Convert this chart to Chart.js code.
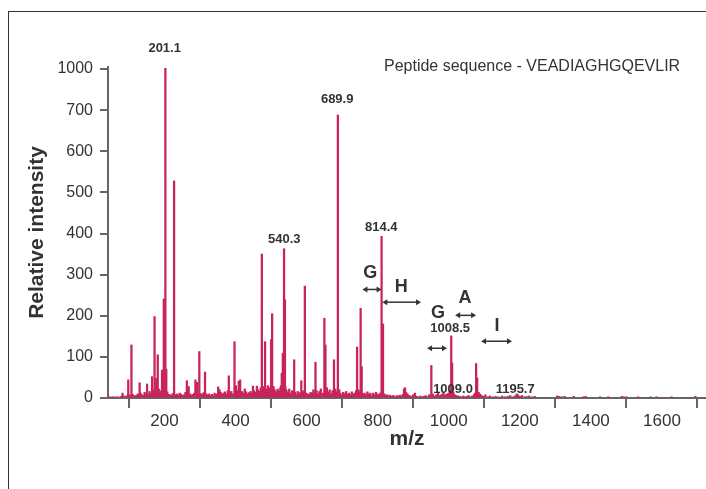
<!DOCTYPE html>
<html><head><meta charset="utf-8">
<script src="https://cdn.jsdelivr.net/npm/chart.js@4"></script>
<style>
html,body{margin:0;padding:0;background:#fff;overflow:hidden;}
#wrap{position:relative;width:706px;height:489px;overflow:hidden;}
#frame{position:absolute;left:8px;top:11px;width:800px;height:600px;border:1px solid #333;box-sizing:border-box;}
canvas{position:absolute;left:0;top:0;}
</style></head><body>
<div id="wrap"><div id="frame"></div><canvas id="c" width="706" height="489"></canvas></div>
<script>
// ---- data (plotted intensity units; axis label "1000" sits at plotted 800) ----
const majorMz  = [98,107,130,151,165,172,177,181,193,198,202.5,205,227,263,268,287,292,298,314,351,381,397,409,413,449,460,474,483,500,503,530,533,536.5,539,565,585,595,625,650,653,677,688,742,752,755,811,815,877,951,1007,1009.5,1077,1080];
const majorInt = [44,129,37,34,52,198,48,105,68,241,802,70,528,42,28,44,38,113,63,27,54,137,41,44,29,29,350,137,142,205,60,109,363,239,93,42,272,87,194,129,93,688,124,218,76,393,180,25,79,151,85,84,49];

const noiseMz  = [45,50,55,60,66,72,78,82,87,91,95,101,104,110,114,118,121,125,133,137,141,144,148,155,158,161,168,175,184,188,191,196,208,212,216,220,223,231,235,239,243,247,251,255,259,266,272,276,280,284,290,295,302,306,310,318,322,326,330,334,338,341,345,348,355,358,362,366,370,374,378,385,388,392,401,405,418,422,426,430,434,438,442,446,452,456,464,468,471,477,480,487,491,494,497,507,510,514,518,522,526,528,540,543,547,551,555,559,562,568,571,575,578,581,589,592,599,603,607,611,615,619,622,628,632,636,640,646,657,661,665,669,673,681,685,692,695,699,703,707,711,715,719,723,727,731,735,739,746,749,759,763,767,771,775,779,783,787,791,795,799,803,807,819,823,827,831,835,839,843,847,851,855,859,863,867,871,874,880,884,888,892,896,900,905,910,915,920,925,930,935,940,945,955,960,965,970,975,980,985,990,995,1000,1003,1013,1017,1021,1026,1031,1036,1041,1046,1051,1056,1061,1066,1071,1074,1084,1088,1093,1098,1103,1110,1116,1124,1132,1140,1150,1158,1166,1173,1180,1186,1191,1195,1200,1206,1212,1219,1226,1234,1242,1305,1311,1318,1326,1352,1378,1385,1426,1449,1487,1493,1500,1533,1568,1585,1627,1694,1701];
const noiseInt = [3,2,3,2,3,2,4,12,5,3,6,8,5,9,6,4,7,10,12,8,6,14,9,10,16,12,20,15,22,14,18,12,15,9,8,6,11,8,10,7,12,9,6,8,14,18,10,7,9,12,15,9,11,8,13,10,7,10,6,9,5,12,8,10,20,14,9,12,15,10,18,12,16,10,30,18,16,12,22,15,10,13,16,12,18,14,20,16,25,20,28,22,30,18,25,28,20,15,22,18,25,30,28,20,15,22,12,18,10,14,8,16,10,13,15,18,12,10,9,14,12,20,15,18,10,16,22,12,25,15,20,10,18,22,15,20,12,8,14,10,16,9,12,8,15,10,12,18,20,14,10,12,8,15,10,12,6,12,8,14,10,8,12,10,6,8,5,7,4,6,5,3,6,4,7,5,9,22,14,10,6,5,4,8,12,4,3,5,3,4,6,3,8,10,5,8,12,6,9,14,8,10,12,18,14,8,6,5,4,3,5,3,4,6,3,5,8,12,14,10,6,4,8,3,5,3,4,3,5,3,4,6,3,5,10,8,4,6,3,4,5,3,4,5,4,3,4,4,3,4,3,3,4,3,3,3,3,3,3,4];

const xTickVals = [200,400,600,800,1000,1200,1400,1600];
const yTickVals = [0,100,200,300,400,500,600,700,800];
const yTickLabels = ['0','100','200','300','400','500','600','700','1000'];

// peak labels (anchor in data units)
const peakLabelText = ['201.1','689.9','540.3','814.4','1008.5','1009.0','1195.7'];
const peakLabelMz   = [200.5,686,537,810,1004,1012,1187];
const peakLabelVal  = [849,725,386,415,169,21,21];

// residue letters
const residueText = ['G','H','G','A','I'];
const residueMz   = [779,866,970,1046,1136];
const residueVal  = [303,269,206,242,174];

// residue mass-difference arrows
const arrowFrom = [757,813,939,1018,1091];
const arrowTo   = [811,922,995,1077,1178];
const arrowVal  = [264,233,121,201,138];

const seqText = 'Peptide sequence - VEADIAGHGQEVLIR';

const FONT = '"Liberation Sans", Arial, Helvetica, sans-serif';
const PEAK = '#c8245a';

const annot = {
  id:'annot',
  afterDraw(chart){
    const {ctx, scales:{x,y}} = chart;
    ctx.save();
    ctx.fillStyle='#333';
    ctx.textAlign='center'; ctx.textBaseline='middle';
    ctx.font='bold 13px '+FONT;
    peakLabelText.forEach((t,i)=>ctx.fillText(t, x.getPixelForValue(peakLabelMz[i]), y.getPixelForValue(peakLabelVal[i])));
    ctx.font='bold 18px '+FONT;
    residueText.forEach((t,i)=>ctx.fillText(t, x.getPixelForValue(residueMz[i]), y.getPixelForValue(residueVal[i])));
    ctx.strokeStyle='#333'; ctx.lineWidth=1.5;
    arrowFrom.forEach((a,i)=>{
      const x1=x.getPixelForValue(a), x2=x.getPixelForValue(arrowTo[i]), yy=y.getPixelForValue(arrowVal[i]);
      const h=5, w=3;
      ctx.beginPath(); ctx.moveTo(x1+h-1,yy); ctx.lineTo(x2-h+1,yy); ctx.stroke();
      ctx.beginPath(); ctx.moveTo(x1,yy); ctx.lineTo(x1+h,yy-w); ctx.lineTo(x1+h,yy+w); ctx.closePath(); ctx.fill();
      ctx.beginPath(); ctx.moveTo(x2,yy); ctx.lineTo(x2-h,yy-w); ctx.lineTo(x2-h,yy+w); ctx.closePath(); ctx.fill();
    });
    ctx.font='16px '+FONT; ctx.textAlign='left';
    ctx.fillText(seqText, 384, 67);
    ctx.restore();
  }
};

new Chart(document.getElementById('c'), {
  type:'bar',
  data:{datasets:[
    {label:'major', data: majorMz.map((m,i)=>({x:m, y:majorInt[i]})), backgroundColor:PEAK, barThickness:1.6, grouped:false},
    {label:'noise', data: noiseMz.map((m,i)=>({x:m, y:noiseInt[i]})), backgroundColor:PEAK, barThickness:1.6, grouped:false}
  ]},
  options:{
    responsive:false, animation:false, devicePixelRatio:1,
    layout:{padding:{top:67,left:0,right:0,bottom:0}},
    plugins:{legend:{display:false}, tooltip:{enabled:false}},
    scales:{
      x:{type:'linear', min:41, max:1724, offset:false,
        afterBuildTicks: s => { s.ticks = xTickVals.map(v=>({value:v})); },
        afterFit: s => { s.height = 91; },
        grid:{drawOnChartArea:false, drawTicks:true, tickLength:10, color:'#666', lineWidth:2},
        border:{display:true, color:'#666', width:2},
        ticks:{font:{family:FONT, size:17}, color:'#333', padding:3, maxRotation:0, autoSkip:false, callback:(v)=>String(v)},
        title:{display:true, text:'m/z', font:{family:FONT, size:21, weight:'bold'}, color:'#333', padding:{top:0,bottom:37}}
      },
      y:{min:0, max:805,
        afterBuildTicks: s => { s.ticks = yTickVals.map(v=>({value:v})); },
        afterFit: s => { s.width = 108; },
        grid:{drawOnChartArea:false, drawTicks:true, tickLength:8, color:'#666', lineWidth:2},
        border:{display:true, color:'#666', width:2},
        ticks:{font:{family:FONT, size:16}, color:'#333', padding:7, autoSkip:false, callback:(v,i)=>yTickLabels[i]},
        title:{display:true, text:'Relative intensity', font:{family:FONT, size:21, weight:'bold'}, color:'#333', padding:{top:25,bottom:0}}
      }
    }
  },
  plugins:[annot]
});
</script>
</body></html>
